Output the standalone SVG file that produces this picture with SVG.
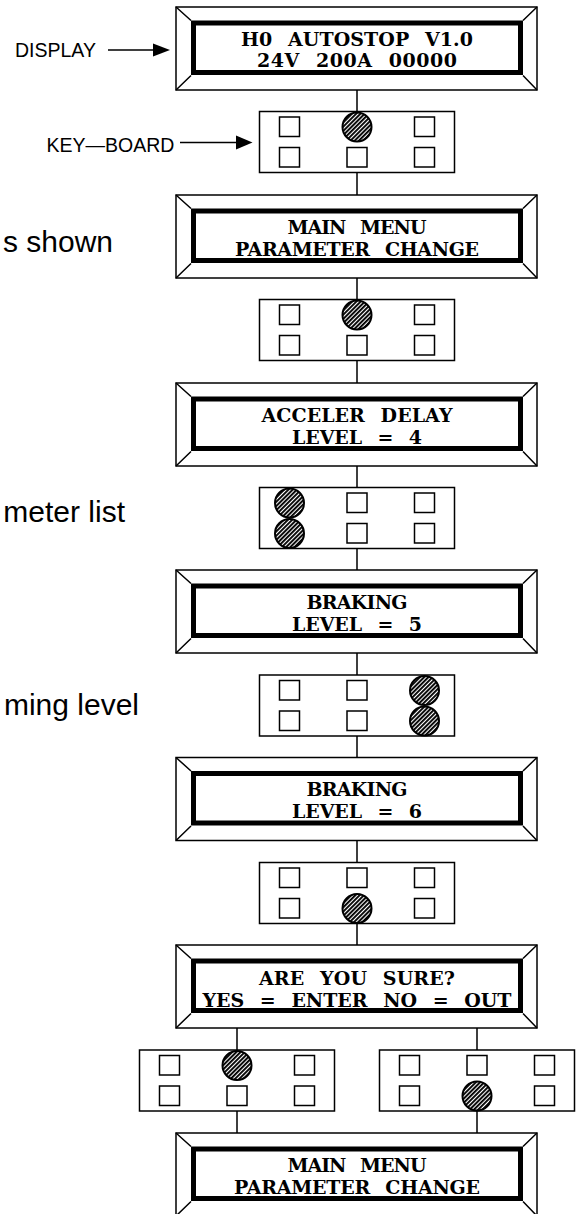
<svg xmlns="http://www.w3.org/2000/svg" xmlns:xlink="http://www.w3.org/1999/xlink" width="581" height="1214" viewBox="0 0 581 1214">
<style>
.bg{fill:#fff}
.thin{fill:none;stroke:#000;stroke-width:1.5}
.band{fill:none;stroke:#000;stroke-width:5}
.key{fill:#fff;stroke:#000;stroke-width:1.5}
.press{fill:url(#hatch);stroke:#000;stroke-width:2}
.conn{stroke:#000;stroke-width:1.5;fill:none}
.lcd{font-family:"DejaVu Serif","Liberation Serif",serif;font-weight:bold;font-size:19px;word-spacing:9px;fill:#000;text-anchor:middle}
.lab{font-family:"Liberation Sans",Arial,sans-serif;font-size:19.5px;fill:#000}
.big{font-family:"Liberation Sans",Arial,sans-serif;font-size:30px;fill:#000;text-anchor:end}
</style>
<defs>
<pattern id="hatch" patternUnits="userSpaceOnUse" width="3" height="3" patternTransform="rotate(45)">
<rect width="3" height="3" fill="#fff"/>
<line x1="0.9" y1="0" x2="0.9" y2="3" stroke="#000" stroke-width="2"/>
</pattern>
<g id="frame">
<rect class="thin" x="176" y="0" width="361" height="83" fill="#fff"/>
<rect class="band" x="193.5" y="16" width="327" height="49.5"/>
<path class="thin" d="M176 0L191 13.5M537 0L523 13.5M176 83L191 68.5M537 83L523 68.5"/>
</g>
<g id="kb">
<rect class="thin" x="0" y="0" width="195" height="61"/>
</g>
</defs>
<rect class="bg" x="0" y="0" width="581" height="1214"/>

<g id="connectors">
<path class="conn" d="M357 90V111.5M357 172.5V195M357 278V299.5M357 360.5V383M357 466V487.5M357 548.5V570M357 653V675M357 736V757.5M357 840.5V862.5M357 923.5V945M237 1028V1050M477 1028V1050M237 1111V1133M477 1111V1133"/>
<path class="conn" d="M108 50H155M180 142.5H237"/>
<polygon points="170,50 153,43.5 153,56.5" fill="#000"/>
<polygon points="252.5,142.5 236,135.5 236,149.5" fill="#000"/>
</g>

<g id="label-display"><text class="lab" x="15" y="57">DISPLAY</text></g>
<g id="label-keyboard"><text class="lab" x="46.5" y="152">KEY—BOARD</text></g>
<g id="note1"><text class="big" x="113" y="252">s shown</text></g>
<g id="note2"><text class="big" x="125" y="522">meter list</text></g>
<g id="note3"><text class="big" x="139" y="715">ming level</text></g>

<g id="display1">
<use xlink:href="#frame" transform="translate(0,7)"/>
<text class="lcd" x="357" y="45.5" textLength="232" lengthAdjust="spacing">H0 AUTOSTOP V1.0</text>
<text class="lcd" x="357" y="67" textLength="200" lengthAdjust="spacing">24V 200A 00000</text>
</g>
<g id="keyboard1" transform="translate(259.5,111.5)">
<use xlink:href="#kb"/>
<rect class="key" x="20" y="5.5" width="20" height="19.5"/><circle class="press" cx="97.5" cy="15.5" r="14.5"/><rect class="key" x="155" y="5.5" width="20" height="19.5"/>
<rect class="key" x="20" y="36" width="20" height="19.5"/><rect class="key" x="87.5" y="36" width="20" height="19.5"/><rect class="key" x="155" y="36" width="20" height="19.5"/>
</g>

<g id="display2">
<use xlink:href="#frame" transform="translate(0,195)"/>
<text class="lcd" x="357" y="233.5" textLength="139" lengthAdjust="spacing">MAIN MENU</text>
<text class="lcd" x="357" y="255.5" textLength="244" lengthAdjust="spacing">PARAMETER CHANGE</text>
</g>
<g id="keyboard2" transform="translate(259.5,299.5)">
<use xlink:href="#kb"/>
<rect class="key" x="20" y="5.5" width="20" height="19.5"/><circle class="press" cx="97.5" cy="15.5" r="14.5"/><rect class="key" x="155" y="5.5" width="20" height="19.5"/>
<rect class="key" x="20" y="36" width="20" height="19.5"/><rect class="key" x="87.5" y="36" width="20" height="19.5"/><rect class="key" x="155" y="36" width="20" height="19.5"/>
</g>

<g id="display3">
<use xlink:href="#frame" transform="translate(0,383)"/>
<text class="lcd" x="357" y="421.5" textLength="191" lengthAdjust="spacing">ACCELER DELAY</text>
<text class="lcd" x="357" y="443.5" textLength="130" lengthAdjust="spacing">LEVEL = 4</text>
</g>
<g id="keyboard3" transform="translate(259.5,487.5)">
<use xlink:href="#kb"/>
<circle class="press" cx="30" cy="15.5" r="14.5"/><rect class="key" x="87.5" y="5.5" width="20" height="19.5"/><rect class="key" x="155" y="5.5" width="20" height="19.5"/>
<circle class="press" cx="30" cy="46" r="14.5"/><rect class="key" x="87.5" y="36" width="20" height="19.5"/><rect class="key" x="155" y="36" width="20" height="19.5"/>
</g>

<g id="display4">
<use xlink:href="#frame" transform="translate(0,570)"/>
<text class="lcd" x="357" y="608.5" textLength="101" lengthAdjust="spacing">BRAKING</text>
<text class="lcd" x="357" y="630.5" textLength="130" lengthAdjust="spacing">LEVEL = 5</text>
</g>
<g id="keyboard4" transform="translate(259.5,675)">
<use xlink:href="#kb"/>
<rect class="key" x="20" y="5.5" width="20" height="19.5"/><rect class="key" x="87.5" y="5.5" width="20" height="19.5"/><circle class="press" cx="165" cy="15.5" r="14.5"/>
<rect class="key" x="20" y="36" width="20" height="19.5"/><rect class="key" x="87.5" y="36" width="20" height="19.5"/><circle class="press" cx="165" cy="46" r="14.5"/>
</g>

<g id="display5">
<use xlink:href="#frame" transform="translate(0,757.5)"/>
<text class="lcd" x="357" y="796" textLength="101" lengthAdjust="spacing">BRAKING</text>
<text class="lcd" x="357" y="818" textLength="130" lengthAdjust="spacing">LEVEL = 6</text>
</g>
<g id="keyboard5" transform="translate(259.5,862.5)">
<use xlink:href="#kb"/>
<rect class="key" x="20" y="5.5" width="20" height="19.5"/><rect class="key" x="87.5" y="5.5" width="20" height="19.5"/><rect class="key" x="155" y="5.5" width="20" height="19.5"/>
<rect class="key" x="20" y="36" width="20" height="19.5"/><circle class="press" cx="97.5" cy="46" r="14.5"/><rect class="key" x="155" y="36" width="20" height="19.5"/>
</g>

<g id="display6">
<use xlink:href="#frame" transform="translate(0,945)"/>
<text class="lcd" x="357" y="984.5" textLength="196" lengthAdjust="spacing">ARE YOU SURE?</text>
<text class="lcd" x="357" y="1006.5" textLength="309" lengthAdjust="spacing">YES = ENTER NO = OUT</text>
</g>
<g id="keyboard6-yes" transform="translate(139.5,1050)">
<use xlink:href="#kb"/>
<rect class="key" x="20" y="5.5" width="20" height="19.5"/><circle class="press" cx="97.5" cy="15.5" r="14.5"/><rect class="key" x="155" y="5.5" width="20" height="19.5"/>
<rect class="key" x="20" y="36" width="20" height="19.5"/><rect class="key" x="87.5" y="36" width="20" height="19.5"/><rect class="key" x="155" y="36" width="20" height="19.5"/>
</g>
<g id="keyboard6-no" transform="translate(379.5,1050)">
<use xlink:href="#kb"/>
<rect class="key" x="20" y="5.5" width="20" height="19.5"/><rect class="key" x="87.5" y="5.5" width="20" height="19.5"/><rect class="key" x="155" y="5.5" width="20" height="19.5"/>
<rect class="key" x="20" y="36" width="20" height="19.5"/><circle class="press" cx="97.5" cy="46" r="14.5"/><rect class="key" x="155" y="36" width="20" height="19.5"/>
</g>

<g id="display7">
<use xlink:href="#frame" transform="translate(0,1133)"/>
<text class="lcd" x="357" y="1171.5" textLength="139" lengthAdjust="spacing">MAIN MENU</text>
<text class="lcd" x="357" y="1193.5" textLength="246" lengthAdjust="spacing">PARAMETER CHANGE</text>
</g>
</svg>
